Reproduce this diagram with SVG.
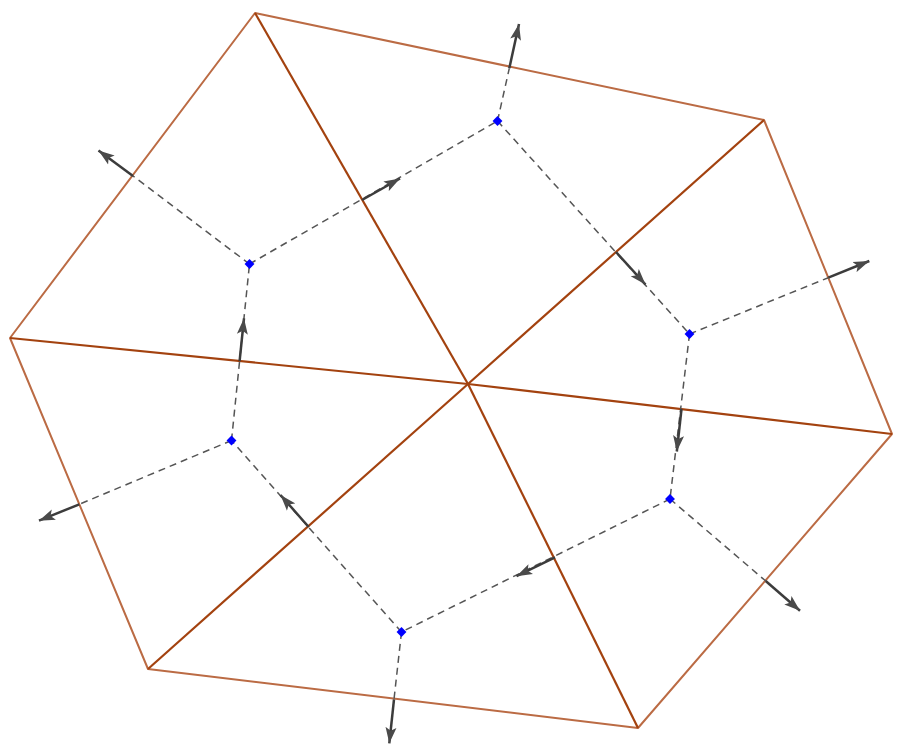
<svg xmlns="http://www.w3.org/2000/svg" width="908" height="750" viewBox="0 0 908 750">
<style>
.edge{stroke:#bb6b44;stroke-width:2;fill:none;stroke-linejoin:round}
.spoke{stroke:#a3420f;stroke-width:2.2;fill:none}
.dash{stroke:#555;stroke-width:1.5;stroke-dasharray:7 5;fill:none}
.arr{stroke:#3c3c3c;stroke-width:2.5;fill:none;marker-end:url(#ah)}
.dot{fill:#0000ff}
</style>
<defs>
<marker id="ah" markerUnits="userSpaceOnUse" markerWidth="18" markerHeight="12" refX="16" refY="5.5" orient="auto" viewBox="0 0 18 11">
<path d="M0,0 L16,5.5 L0,11 L3.5,5.5 Z" fill="#4a4a4a"/>
</marker>
</defs>
<rect width="908" height="750" fill="#fff"/>
<g id="hexagon">
<polygon class="edge" points="255,13 764,120 892,434 638,728 148,669 10,338"/>
</g>
<g id="spokes">
<line class="spoke" x1="468" y1="384" x2="255" y2="13"/>
<line class="spoke" x1="468" y1="384" x2="764" y2="120"/>
<line class="spoke" x1="468" y1="384" x2="892" y2="434"/>
<line class="spoke" x1="468" y1="384" x2="638" y2="728"/>
<line class="spoke" x1="468" y1="384" x2="148" y2="669"/>
<line class="spoke" x1="468" y1="384" x2="10" y2="338"/>
</g>
<g id="connectors">
<line class="dash" x1="249.5" y1="264" x2="497.5" y2="121"/>
<line class="dash" x1="497.5" y1="121" x2="689.5" y2="334"/>
<line class="dash" x1="689.5" y1="334" x2="670" y2="499"/>
<line class="dash" x1="670" y1="499" x2="401.5" y2="632"/>
<line class="dash" x1="401.5" y1="632" x2="231.5" y2="440.5"/>
<line class="dash" x1="231.5" y1="440.5" x2="249.5" y2="264"/>
<line class="dash" x1="249.5" y1="264" x2="133" y2="176"/>
<line class="dash" x1="497.5" y1="121" x2="509.3" y2="68.3"/>
<line class="dash" x1="689.5" y1="334" x2="828.3" y2="277.7"/>
<line class="dash" x1="670" y1="499" x2="765.7" y2="581"/>
<line class="dash" x1="401.5" y1="632" x2="394" y2="699.3"/>
<line class="dash" x1="231.5" y1="440.5" x2="79.3" y2="504.3"/>
<line class="arr" x1="362" y1="200" x2="400" y2="178.5"/>
<line class="arr" x1="616" y1="252" x2="645.5" y2="284.5"/>
<line class="arr" x1="681.5" y1="409" x2="676.8" y2="451.5"/>
<line class="arr" x1="555" y1="557.3" x2="516.5" y2="576.2"/>
<line class="arr" x1="308.7" y1="527" x2="280.5" y2="495"/>
<line class="arr" x1="239.6" y1="361.1" x2="244" y2="318.3"/>
<line class="arr" x1="133" y1="176" x2="98.5" y2="150.5"/>
<line class="arr" x1="509.3" y1="68.3" x2="519" y2="24"/>
<line class="arr" x1="828.3" y1="277.7" x2="869.3" y2="261"/>
<line class="arr" x1="765.7" y1="581" x2="800" y2="610.7"/>
<line class="arr" x1="394" y1="699.3" x2="389.3" y2="743.3"/>
<line class="arr" x1="79.3" y1="504.3" x2="39" y2="520.7"/>
</g>
<g id="n1"><rect class="dot" x="-3.5" y="-3.5" width="7" height="7" transform="translate(249.5,264) rotate(45)"/></g>
<g id="n2"><rect class="dot" x="-3.5" y="-3.5" width="7" height="7" transform="translate(497.5,121) rotate(45)"/></g>
<g id="n3"><rect class="dot" x="-3.5" y="-3.5" width="7" height="7" transform="translate(689.5,334) rotate(45)"/></g>
<g id="n4"><rect class="dot" x="-3.5" y="-3.5" width="7" height="7" transform="translate(670,499) rotate(45)"/></g>
<g id="n5"><rect class="dot" x="-3.5" y="-3.5" width="7" height="7" transform="translate(401.5,632) rotate(45)"/></g>
<g id="n6"><rect class="dot" x="-3.5" y="-3.5" width="7" height="7" transform="translate(231.5,440.5) rotate(45)"/></g>
</svg>
